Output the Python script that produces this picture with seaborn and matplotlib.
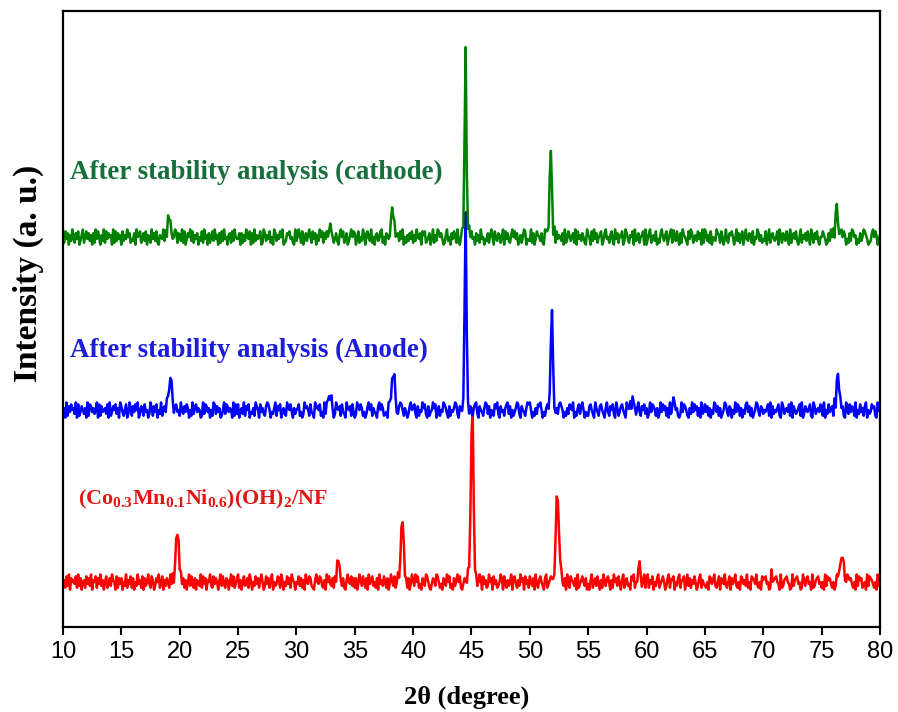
import numpy as np
import pandas as pd
import matplotlib
matplotlib.use("Agg")
import matplotlib.pyplot as plt
import seaborn as sns

# 2-theta grid of the scans (degrees)
START, STEP = 10.0, 0.1

# Background counting noise of each scan, one digit per grid step (0-9, centred on 4.5)
GREEN_JITTER = (
    "52847163952748136925847361729485163928475619283746"
    "18364957243719568247381652947382165493728164359827"
    "63928147593826471538294617258394617283945167283954"
    "47172639548172936458129736482519736485912376845219"
    "35962814736952847163958274613985247316958247136958"
    "71482539617843925167348925176438915267384915263748"
    "26395471868235714926398574126935174862931574862395"
    "84517362945143726951843762591847326958471362598143"
    "39271486537219864537192846537192486357291846375219"
    "65183947256813794526831947265813974265819347256819"
    "14792563814279536814792653841729653184972563847192"
    "97362815439762851493276851493726815943762815497362"
    "43815926743581962743851926748315926473851962748315"
    "58641273958164237958614273985614273598641237958614"
    "6"
)
BLUE_JITTER = (
    "36192748563918247536192874635918274563819247583619"
    "74258139627485913762845139627481539267485139627845"
    "29537486152937846512938746152983746125938746519283"
    "81463927581436297518463279851436927581463297584163"
    "56824139675284319675824193765284139657284319657284"
    "13975862413795826431795862341975826413798526413795"
    "68317254968317245968137254986317254698317524968317"
    "42689317542698371542869317452689371524698317542698"
    "95142638795142683795412638975142638759142683795142"
    "27853196427853169427583196247853196472853169427583"
    "61394875261394857261934875621394875216394857261934"
    "84726153984726135984276153948726153894726135984276"
    "35468291735468219735648291753468291375468219735648"
    "72915384672915348672195384762915384627915348672195"
    "4"
)
RED_JITTER = (
    "46283917564829371562847391658274936158247396518274"
    "71539264827153946281735942861375924816375294816735"
    "38472615938427165392847165932847516938427615938247"
    "92615834729615384726951384726915348729615384729651"
    "54837261954873216954873261958437261958437216954837"
    "27149638527194683527194638527149638257149683527149"
    "63958241763985214763985241763958241736958214763958"
    "18426359718462395718462359718426359178426395718462"
    "85371942685317924685317942685371942865371924685371"
    "41692573841629537841629573841692573418692537841692"
    "79264815379246851379246815379264815937264851379264"
    "32518746932581764932581746932518746392518764932518"
    "67845129367854192367854129367845129637845192367845"
    "25193867425139876425139867425193867245193876425193"
    "6"
)

# Offset baselines of the stacked patterns (a.u.)
GREEN_BASE, BLUE_BASE, RED_BASE = 389, 216, 44

# Diffraction peaks: 2-theta positions and counts above background
GREEN_PEAK_2THETA = [18.8, 18.9, 19.0, 19.1, 19.2, 19.3, 19.4,
                     32.6, 32.7, 32.8, 32.9,
                     38.0, 38.1, 38.2, 38.3, 38.4, 38.5,
                     44.2, 44.3, 44.4, 44.5, 44.6, 44.7, 44.8,
                     51.5, 51.6, 51.7, 51.8, 51.9, 52.0, 52.1,
                     62.3,
                     76.0, 76.1, 76.2, 76.3, 76.4, 76.5]
GREEN_PEAK_COUNTS = [3, 6, 16, 25, 15, 6, 2,
                     4, 8, 10, 6,
                     5, 12, 22, 28, 16, 6,
                     5, 12, 90, 188, 70, 12, 4,
                     4, 12, 60, 90, 45, 10, 3,
                     5,
                     3, 7, 22, 35, 20, 7]

BLUE_PEAK_2THETA = [18.9, 19.0, 19.1, 19.2, 19.3, 19.4, 19.5,
                    32.6, 32.7, 32.8, 32.9, 33.0, 33.1,
                    38.0, 38.1, 38.2, 38.3, 38.4, 38.5, 38.6,
                    44.2, 44.3, 44.4, 44.5, 44.6, 44.7, 44.8,
                    51.6, 51.7, 51.8, 51.9, 52.0, 52.1, 52.2,
                    58.5, 58.6, 58.7, 58.8, 58.9, 59.0, 59.1,
                    62.2, 62.3, 62.4,
                    76.1, 76.2, 76.3, 76.4, 76.5, 76.6]
BLUE_PEAK_COUNTS = [6, 14, 28, 36, 22, 8, 3,
                    4, 8, 14, 16, 9, 3,
                    5, 12, 26, 39, 34, 14, 5,
                    5, 14, 90, 196, 70, 12, 4,
                    5, 14, 60, 100, 45, 10, 3,
                    3, 5, 7, 8, 8, 6, 3,
                    5, 7, 4,
                    4, 10, 30, 40, 22, 8]

RED_PEAK_2THETA = [19.4, 19.5, 19.6, 19.7, 19.8, 19.9, 20.0, 20.1,
                   33.3, 33.4, 33.5, 33.6, 33.7, 33.8,
                   38.7, 38.8, 38.9, 39.0, 39.1, 39.2, 39.3, 39.4,
                   44.6, 44.7, 44.8, 44.9, 45.0, 45.1, 45.2, 45.3, 45.4,
                   51.9, 52.0, 52.1, 52.2, 52.3, 52.4, 52.5, 52.6, 52.7,
                   59.2, 59.3, 59.4, 59.5, 59.6,
                   62.1, 63.1, 70.7, 70.8,
                   76.5, 76.6, 76.7, 76.8, 76.9, 77.0, 77.1]
RED_PEAK_COUNTS = [3, 7, 16, 40, 51, 42, 16, 5,
                   4, 8, 14, 21, 10, 4,
                   6, 12, 25, 48, 58, 34, 10, 4,
                   3, 6, 15, 60, 155, 168, 75, 18, 6,
                   3, 7, 15, 40, 78, 83, 55, 20, 7,
                   4, 10, 15, 8, 3,
                   5, 4, 5, 4,
                   7, 16, 26, 30, 20, 9, 4]

LABELS = ["After stability analysis (cathode)",
          "After stability analysis (Anode)",
          r"$\mathbf{(Co_{0.3}Mn_{0.1}Ni_{0.6})(OH)_2/NF}$"]
LINE_COLORS = ["#008000", "#0000ff", "#ff0000"]
TEXT_COLORS = ["#17703c", "#1c1cdc", "#e21414"]
X_TICKS = list(range(10, 81, 5))


def build_scan(jitter, base, peak_x, peak_y, amp=1.9):
    counts = base + (np.array([int(c) for c in jitter], dtype=float) - 4.5) * amp
    two_theta = START + STEP * np.arange(len(counts))
    for px, py in zip(peak_x, peak_y):
        i = int(round((px - START) / STEP))
        if 0 <= i < len(counts):
            counts[i] += py
    return pd.DataFrame({"two_theta": two_theta, "intensity": counts})


sns.set_theme(style="white")
plt.rcParams["mathtext.fontset"] = "custom"
plt.rcParams["mathtext.bf"] = "Liberation Serif:bold"
plt.rcParams["mathtext.rm"] = "Liberation Serif"

fig = plt.figure(figsize=(8.98, 7.12), dpi=100)
ax = fig.add_axes([63 / 898, 1 - 627 / 712, (880 - 63) / 898, (627 - 11) / 712])

scans = [
    build_scan(RED_JITTER, RED_BASE, RED_PEAK_2THETA, RED_PEAK_COUNTS),
    build_scan(BLUE_JITTER, BLUE_BASE, BLUE_PEAK_2THETA, BLUE_PEAK_COUNTS),
    build_scan(GREEN_JITTER, GREEN_BASE, GREEN_PEAK_2THETA, GREEN_PEAK_COUNTS),
]
for df, color in zip(scans, LINE_COLORS[::-1]):
    sns.lineplot(data=df, x="two_theta", y="intensity", color=color,
                 linewidth=1.8, sort=False, estimator=None, ax=ax)

ax.set_xlim(10, 80)
ax.set_ylim(0, 616)
ax.set_xticks(X_TICKS)
ax.set_yticks([])
ax.tick_params(axis="x", direction="out", length=6, width=1.5, color="black",
               labelsize=17, labelcolor="black", pad=4, bottom=True)
for lab in ax.get_xticklabels():
    lab.set_fontfamily("Liberation Sans")
for sp in ax.spines.values():
    sp.set_visible(True)
    sp.set_color("black")
    sp.set_linewidth(1.6)

ax.set_xlabel("2θ (degree)", fontsize=19, fontweight="bold", color="black",
              family="Liberation Serif", va="center")
ax.xaxis.set_label_coords((467 - 63) / 817, (627 - 697) / 616)
ax.set_ylabel("Intensity (a. u.)", fontsize=24, fontweight="bold", color="black",
              family="Liberation Serif", va="center")
ax.yaxis.set_label_coords((28 - 63) / 817, (627 - 273) / 616)

ax.text(10.6, 455, LABELS[0], color=TEXT_COLORS[0], fontsize=19.4,
        fontweight="bold", family="Liberation Serif", va="center", ha="left")
ax.text(10.6, 277, LABELS[1], color=TEXT_COLORS[1], fontsize=19.4,
        fontweight="bold", family="Liberation Serif", va="center", ha="left")
ax.text(11.3, 128, LABELS[2], color=TEXT_COLORS[2], fontsize=15.8,
        va="center", ha="left")

fig.savefig("out.png", dpi=100)
